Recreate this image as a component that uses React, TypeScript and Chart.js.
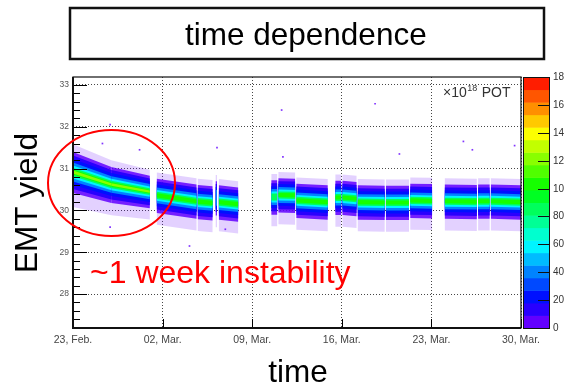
import React, { useEffect, useRef } from 'react';
import { Chart, registerables } from 'chart.js';

Chart.register(...registerables);

const FONT = '"Liberation Sans", Arial, Helvetica, sans-serif';

// ---- axes ----
const xTickDays = [0, 7, 14, 21, 28, 35];
const xTickLabels = ['23, Feb.', '02, Mar.', '09, Mar.', '16, Mar.', '23, Mar.', '30, Mar.'];
const yTickValues = [28, 29, 30, 31, 32, 33];
const zTickValues = [0, 20, 40, 60, 80, 100, 120, 140, 160, 180];

// ---- runs (days since 23 Feb) ----
const runStart = [0, 3.0, 6.55, 9.75, 11.15, 11.4, 15.5, 16.05, 17.45, 20.5, 21.05, 22.25, 24.45, 26.35, 29.05, 31.65, 32.65];
const runEnd = [3.0, 6.0, 9.65, 10.9, 11.25, 12.9, 15.95, 17.35, 19.9, 20.95, 22.15, 24.35, 26.25, 28.05, 31.55, 32.55, 35];
const runCenterStart = [30.92, 30.62, 30.36, 30.21, 30.3, 30.2, 30.32, 30.37, 30.24, 30.31, 30.31, 30.2, 30.19, 30.24, 30.22, 30.22, 30.22];
const runCenterEnd = [30.62, 30.45, 30.22, 30.18, 30.3, 30.15, 30.32, 30.36, 30.2, 30.31, 30.28, 30.19, 30.19, 30.23, 30.21, 30.22, 30.2];
const runWidthStart = [1.2, 1.05, 1.0, 1.0, 1.0, 1.0, 1.0, 1.0, 1.0, 1.0, 1.0, 1.0, 1.0, 1.0, 1.0, 1.0, 1.0];
const runWidthEnd = [1.05, 0.95, 1.0, 1.0, 1.0, 1.0, 1.0, 1.0, 1.0, 1.0, 1.0, 1.0, 1.0, 1.0, 1.0, 1.0, 1.0];
const runPeak = [120, 120, 100, 100, 40, 100, 85, 100, 100, 100, 100, 100, 100, 100, 100, 100, 100];

// ---- density layers (count level, half widths in yield units) ----
const layerCount = [2, 5, 15, 25, 40, 60, 85, 100, 120];
const layerHalfUp = [0.55, 0.4, 0.33, 0.26, 0.19, 0.13, 0.085, 0.05, 0.03];
const layerHalfDown = [0.7, 0.42, 0.34, 0.26, 0.19, 0.13, 0.085, 0.05, 0.03];
const layerAlpha = [0.18, 0.85, 1, 1, 1, 1, 1, 1, 1];

// ---- isolated entries ----
const outlierDay = [2.9, 2.3, 5.2, 11.25, 9.1, 2.9, 11.9, 16.3, 16.4, 23.6, 25.5, 30.5, 31.2, 34.5];
const outlierYield = [32.05, 31.6, 31.45, 31.5, 29.15, 29.6, 29.55, 32.4, 31.28, 32.55, 31.35, 31.65, 31.45, 31.55];

function paletteColor(v: number, alpha = 1) {
  const band = Math.max(0, Math.min(19, Math.floor(v / 9)));
  const mid = band * 9 + 4.5;
  const hue = 270 - 1.5 * mid;
  return `hsla(${hue}, 100%, 50%, ${alpha})`;
}

const decor = {
  id: 'decor',
  afterDraw(chart: any) {
    const { ctx, chartArea: a, scales } = chart;
    const xs = scales.x;
    const ys = scales.y;
    const zs = scales.z;
    ctx.save();

    // inward y ticks
    ctx.strokeStyle = '#000';
    ctx.lineWidth = 1;
    for (let k = 137; k <= 165; k++) {
      const v = k * 0.2;
      const py = Math.round(ys.getPixelForValue(v)) + 0.5;
      const len = k % 5 === 0 ? 14 : 7;
      ctx.beginPath();
      ctx.moveTo(a.left, py);
      ctx.lineTo(a.left + len, py);
      ctx.stroke();
    }
    // inward x ticks
    for (const d of xTickDays) {
      const px = Math.round(xs.getPixelForValue(d)) + 0.5;
      ctx.beginPath();
      ctx.moveTo(px, a.bottom);
      ctx.lineTo(px, a.bottom - 9);
      ctx.stroke();
    }

    // frame
    ctx.strokeStyle = '#111';
    ctx.lineWidth = 1.2;
    ctx.strokeRect(a.left, a.top, a.right - a.left, a.bottom - a.top);
    ctx.lineWidth = 2;
    ctx.beginPath();
    ctx.moveTo(a.left, a.top);
    ctx.lineTo(a.left, a.bottom);
    ctx.lineTo(a.right, a.bottom);
    ctx.stroke();

    // colour bar
    const cbL = 523;
    const cbR = 549;
    for (let b = 0; b < 20; b++) {
      const yTop = zs.getPixelForValue((b + 1) * 9);
      const yBot = zs.getPixelForValue(b * 9);
      ctx.fillStyle = paletteColor(b * 9 + 1);
      ctx.fillRect(cbL, yTop, cbR - cbL, yBot - yTop + 0.5);
    }
    ctx.strokeStyle = '#111';
    ctx.lineWidth = 1;
    ctx.strokeRect(cbL + 0.5, a.top + 0.5, cbR - cbL, a.bottom - a.top);
    ctx.fillStyle = '#333';
    ctx.font = `10px ${FONT}`;
    ctx.textAlign = 'left';
    ctx.textBaseline = 'middle';
    for (const v of zTickValues) {
      const py = Math.round(zs.getPixelForValue(v)) + 0.5;
      ctx.beginPath();
      ctx.moveTo(cbR, py);
      ctx.lineTo(cbR - 11, py);
      ctx.stroke();
      ctx.fillText(String(v), 553, py);
    }

    // x10^18 POT
    ctx.fillStyle = '#333';
    ctx.textBaseline = 'alphabetic';
    ctx.font = `14px ${FONT}`;
    let tx = 443;
    ctx.fillText('\u00d710', tx, 97);
    tx += ctx.measureText('\u00d710').width;
    ctx.font = `9px ${FONT}`;
    ctx.fillText('18', tx + 0.5, 91);
    tx += ctx.measureText('18').width + 1;
    ctx.font = `14px ${FONT}`;
    ctx.fillText(' POT', tx, 97);

    // title box
    ctx.strokeStyle = '#111';
    ctx.lineWidth = 2.5;
    ctx.strokeRect(70, 8, 474, 51);
    ctx.fillStyle = '#000';
    ctx.font = `31.5px ${FONT}`;
    ctx.textAlign = 'left';
    ctx.fillText('time dependence', 185, 45);

    // axis titles
    ctx.textAlign = 'center';
    ctx.fillText('time', 298, 382);
    ctx.save();
    ctx.translate(37, 203);
    ctx.rotate(-Math.PI / 2);
    ctx.fillText('EMT yield', 0, 0);
    ctx.restore();

    // annotation
    ctx.strokeStyle = '#ff0000';
    ctx.lineWidth = 2;
    ctx.beginPath();
    ctx.ellipse(111.5, 183, 63.5, 53, 0, 0, Math.PI * 2);
    ctx.stroke();
    ctx.fillStyle = '#ff0000';
    ctx.textAlign = 'left';
    ctx.font = `32px ${FONT}`;
    ctx.fillText('~1 week instability', 90, 283);

    ctx.restore();
  },
};

export default function App() {
  const ref = useRef<HTMLCanvasElement | null>(null);

  useEffect(() => {
    const canvas = ref.current;
    if (!canvas) return;

    const datasets: any[] = [];
    for (let L = 0; L < layerCount.length; L++) {
      for (let r = 0; r < runStart.length; r++) {
        if (layerCount[L] > runPeak[r]) continue;
        const us = layerHalfUp[L] * runWidthStart[r];
        const ue = layerHalfUp[L] * runWidthEnd[r];
        const ds = layerHalfDown[L] * runWidthStart[r];
        const de = layerHalfDown[L] * runWidthEnd[r];
        datasets.push({
          type: 'line',
          data: [
            { x: runStart[r], y: runCenterStart[r] + us },
            { x: runEnd[r], y: runCenterEnd[r] + ue },
            { x: runEnd[r], y: runCenterEnd[r] - de },
            { x: runStart[r], y: runCenterStart[r] - ds },
          ],
          fill: 'shape',
          backgroundColor: paletteColor(layerCount[L], layerAlpha[L]),
          borderWidth: 0,
          borderColor: 'rgba(0,0,0,0)',
          pointRadius: 0,
          tension: 0,
          order: 100 - L,
        });
      }
    }
    datasets.push({
      type: 'line',
      data: outlierDay.map((d, i) => ({ x: d, y: outlierYield[i] })),
      showLine: false,
      pointStyle: 'rect',
      pointRadius: 1.2,
      borderWidth: 0,
      backgroundColor: paletteColor(2, 0.8),
      order: 0,
    });

    const chart = new Chart(canvas, {
      type: 'line',
      data: { datasets },
      options: {
        animation: false,
        responsive: false,
        maintainAspectRatio: false,
        events: [],
        layout: { padding: { left: 0, top: 77, right: 43, bottom: 0 } },
        plugins: {
          legend: { display: false },
          tooltip: { enabled: false },
          title: { display: false },
        },
        scales: {
          x: {
            type: 'linear',
            min: 0,
            max: 35,
            afterBuildTicks: (s: any) => {
              s.ticks = xTickDays.map((v) => ({ value: v }));
            },
            afterFit: (s: any) => {
              s.height = 57;
            },
            ticks: {
              autoSkip: false,
              maxRotation: 0,
              padding: 6,
              color: '#444',
              font: { family: FONT, size: 10.5 },
              callback: (v: any) => {
                const i = xTickDays.indexOf(Number(v));
                return i >= 0 ? xTickLabels[i] : '';
              },
            },
            grid: { color: 'rgba(50,50,50,0.9)', lineWidth: 1, drawTicks: false },
            border: { display: false, dash: [1, 2] },
          },
          y: {
            type: 'linear',
            min: 27.19,
            max: 33.19,
            afterBuildTicks: (s: any) => {
              s.ticks = yTickValues.map((v) => ({ value: v }));
            },
            afterFit: (s: any) => {
              s.width = 73;
            },
            ticks: {
              padding: 4,
              color: '#555',
              font: { family: FONT, size: 8.5 },
              callback: (v: any) => String(v),
            },
            grid: { color: 'rgba(50,50,50,0.9)', lineWidth: 1, drawTicks: false },
            border: { display: false, dash: [1, 2] },
          },
          z: {
            type: 'linear',
            display: false,
            position: 'right',
            min: 0,
            max: 180,
          },
        },
      },
      plugins: [decor],
    } as any);

    return () => chart.destroy();
  }, []);

  return (
    <div style={{ position: 'fixed', left: 0, top: 0, width: 564, height: 385, background: '#fff' }}>
      <canvas ref={ref} width={564} height={385} style={{ display: 'block', width: 564, height: 385 }} />
    </div>
  );
}
